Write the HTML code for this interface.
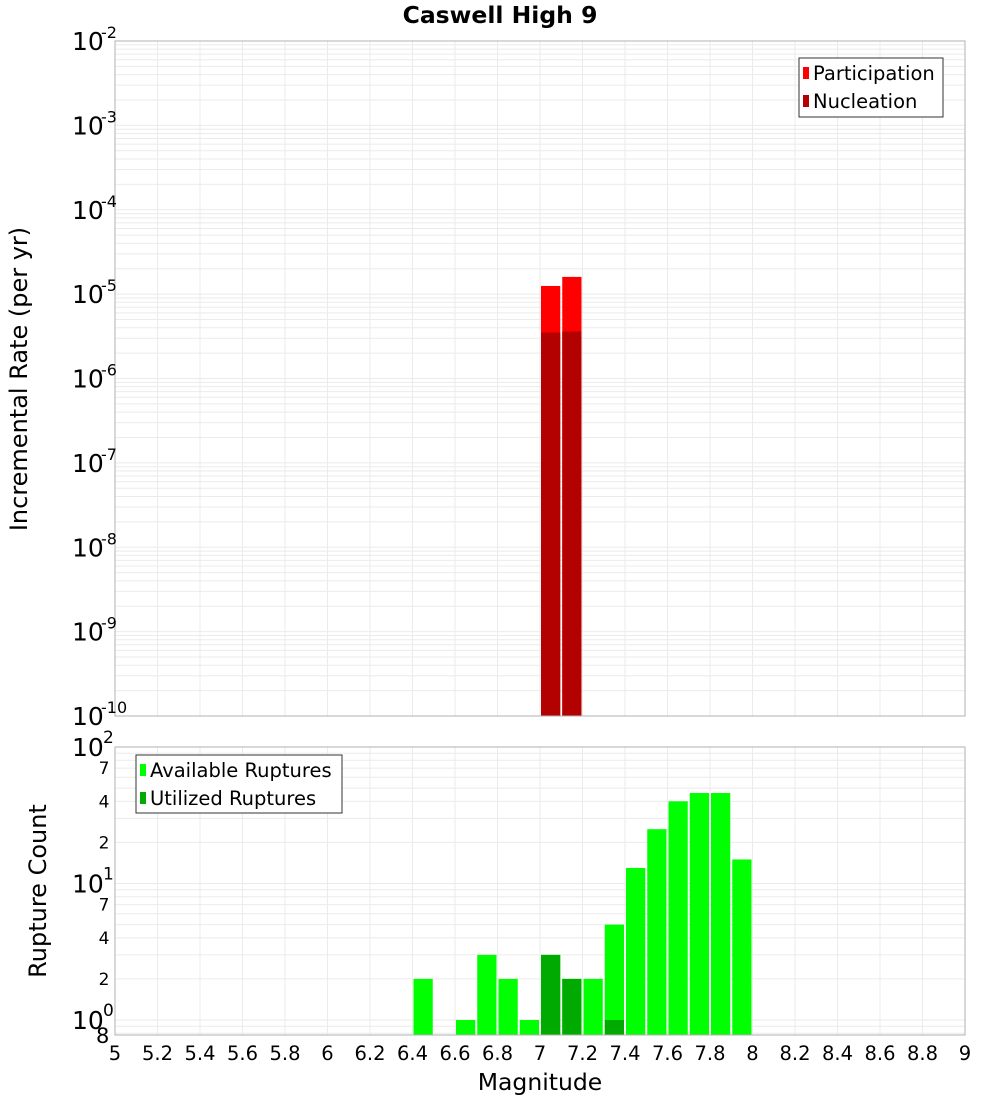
<!DOCTYPE html>
<html><head><meta charset="utf-8"><style>
body{margin:0;background:#fff;}
svg{display:block;font-family:"DejaVu Sans","Liberation Sans",sans-serif;}
</style></head><body>
<svg id="c" width="1000" height="1100" xmlns="http://www.w3.org/2000/svg"></svg>
<script>
const binCenters=[6.45,6.55,6.65,6.75,6.85,6.95,7.05,7.15,7.25,7.35,7.45,7.55,7.65,7.75,7.85,7.95];
const availableCounts=[2,0,1,3,2,1,3,2,2,5,13,25,40,46,46,15];
const utilizedCounts=[0,0,0,0,0,0,3,2,0,1,0,0,0,0,0,0];
const rateMags=[7.05,7.15];
const participationRates=[1.25e-5,1.6e-5];
const nucleationRates=[3.5e-6,3.6e-6];
const xTicks=[5,5.2,5.4,5.6,5.8,6,6.2,6.4,6.6,6.8,7,7.2,7.4,7.6,7.8,8,8.2,8.4,8.6,8.8,9];
const topDecades=[-2,-3,-4,-5,-6,-7,-8,-9,-10];
const botMinor=[2,4,7,20,40,70];

const NS="http://www.w3.org/2000/svg";
const svg=document.getElementById('c');
function mk(tag,attrs,parent){const e=document.createElementNS(NS,tag);for(const k in attrs)e.setAttribute(k,attrs[k]);(parent||svg).appendChild(e);return e;}
const L=115,R=965;
const x=v=>L+(v-5)/4*(R-L);
const T1=41,B1=716;
const y1=v=>T1+(-2-Math.log10(v))/8*(B1-T1);
const T2=747,D2=136.5;
const y2=v=>T2+(2-Math.log10(v))*D2;
const B2=1035;
const bw=(x(5.1)-x(5))-2;

let t=mk('text',{x:500,y:23,'text-anchor':'middle','font-size':23.5,'font-weight':'bold'});
t.textContent='Caswell High 9';



let g1=mk('g',{});


for(let d=-10;d<-2;d++){for(let m=1;m<10;m++){const yy=y1(m*Math.pow(10,d));mk('line',{x1:L,x2:R,y1:yy,y2:yy,stroke:'#ebebeb','stroke-width':1},g1);}}
xTicks.forEach(v=>{mk('line',{x1:x(v),x2:x(v),y1:T1,y2:B1,stroke:'#ebebeb'},g1);});
rateMags.forEach((m,i)=>{
 let r=mk('rect',{x:x(m)-bw/2,y:y1(participationRates[i]),width:bw,height:B1-y1(participationRates[i]),fill:'#ff0000'},g1);
 
 
 let n=mk('rect',{x:x(m)-bw/2,y:y1(nucleationRates[i]),width:bw,height:B1-y1(nucleationRates[i]),fill:'#b30000'},g1);
 
 
});
mk('rect',{x:L,y:T1,width:R-L,height:B1-T1,fill:'none',stroke:'#b0b0b0'},g1);
topDecades.forEach(d=>{
 const yy=y1(Math.pow(10,d));
 let tx=mk('text',{x:72,y:yy+9,'font-size':25},g1);
 tx.textContent='10';
 
 
 let s=mk('text',{x:101,y:yy-3,'font-size':16},g1);
 s.textContent=String(d);
});
let yt=mk('text',{transform:'translate(27,379) rotate(-90)','text-anchor':'middle','font-size':24},g1);
yt.textContent='Incremental Rate (per yr)';


let lg1=mk('g',{},g1);


mk('rect',{x:799,y:58,width:144,height:59,fill:'#fff',stroke:'#333'},lg1);
mk('rect',{x:803,y:67,width:6,height:12,fill:'#ff0000'},lg1);
mk('rect',{x:803,y:95,width:6,height:12,fill:'#b30000'},lg1);
let a=mk('text',{x:813,y:80,'font-size':19.5},lg1);a.textContent='Participation';
let b=mk('text',{x:813,y:108,'font-size':19.5},lg1);b.textContent='Nucleation';

let g2=mk('g',{});


for(let d=-1;d<2;d++){for(let m=1;m<10;m++){const yy=y2(m*Math.pow(10,d));if(yy>=T2&&yy<=B2)mk('line',{x1:L,x2:R,y1:yy,y2:yy,stroke:'#ebebeb'},g2);}}
xTicks.forEach(v=>{mk('line',{x1:x(v),x2:x(v),y1:T2,y2:B2,stroke:'#ebebeb'},g2);});
binCenters.forEach((m,i)=>{
 if(availableCounts[i]>0){
  let r=mk('rect',{x:x(m)-bw/2,y:y2(availableCounts[i]),width:bw,height:B2-y2(availableCounts[i]),fill:'#00ff00'},g2);
  
  
 }
 if(utilizedCounts[i]>0){
  let u=mk('rect',{x:x(m)-bw/2,y:y2(utilizedCounts[i]),width:bw,height:B2-y2(utilizedCounts[i]),fill:'#00aa00'},g2);
  
  
 }
});
mk('rect',{x:L,y:T2,width:R-L,height:B2-T2,fill:'none',stroke:'#b0b0b0'},g2);
[2,1,0].forEach(d=>{
 const yy=y2(Math.pow(10,d));
 let tx=mk('text',{x:72,y:yy+9,'font-size':25},g2);tx.textContent='10';
 let s=mk('text',{x:103,y:yy-4,'font-size':17},g2);s.textContent=String(d);
});
botMinor.forEach(v=>{
 let tx=mk('text',{x:104,y:y2(v)+6,'font-size':17,'text-anchor':'middle'},g2);tx.textContent=String(v<10?v:v/10);
});
let e8=mk('text',{x:96,y:1043,'font-size':21},g2);e8.textContent='8';
let yt2=mk('text',{transform:'translate(46,891) rotate(-90)','text-anchor':'middle','font-size':24},g2);
yt2.textContent='Rupture Count';


xTicks.forEach(v=>{
 let tx=mk('text',{x:x(v),y:1060,'font-size':19.5,'text-anchor':'middle'},g2);
 tx.textContent=String(v);
 
 
});
let xt=mk('text',{x:540,y:1090,'font-size':23.5,'text-anchor':'middle'},g2);
xt.textContent='Magnitude';


let lg2=mk('g',{},g2);


mk('rect',{x:136,y:755,width:206,height:58,fill:'#fff',stroke:'#333'},lg2);
mk('rect',{x:140,y:764,width:6,height:12,fill:'#00ff00'},lg2);
mk('rect',{x:140,y:792,width:6,height:12,fill:'#00aa00'},lg2);
let c1=mk('text',{x:150,y:777,'font-size':19.5},lg2);c1.textContent='Available Ruptures';
let c2=mk('text',{x:150,y:805,'font-size':19.5},lg2);c2.textContent='Utilized Ruptures';
</script>
</body></html>
